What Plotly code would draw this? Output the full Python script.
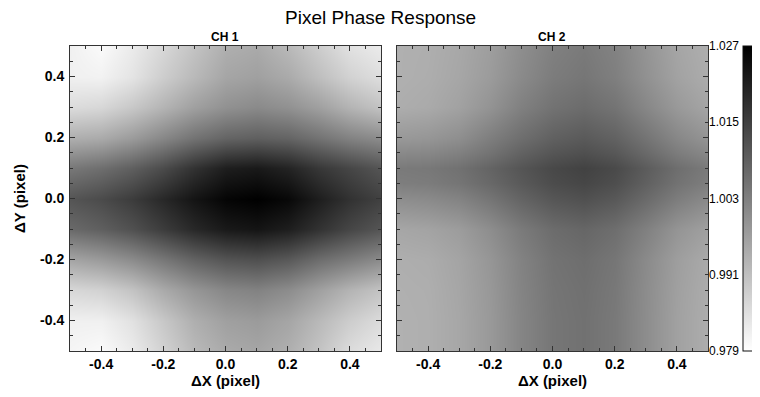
import plotly.graph_objects as go

# Grid positions (pixel phase offsets)
dx = [-0.5, -0.4, -0.3, -0.2, -0.1, 0.0, 0.1, 0.2, 0.3, 0.4, 0.5]
dy1 = [-0.5, -0.4, -0.3, -0.2, -0.1, 0.0, 0.1, 0.2, 0.3, 0.4, 0.5]
dy2 = [-0.5, -0.4, -0.3, -0.2, -0.1, 0.0, 0.05, 0.1, 0.15, 0.2, 0.3, 0.4, 0.5]

# CH 1 relative response, rows from dy=-0.5 (bottom) to dy=0.5 (top)
ch1 = [
    [0.9809, 0.9799, 0.9828, 0.9875, 0.9922, 0.9950, 0.9959, 0.9941, 0.9903, 0.9856, 0.9833],
    [0.9818, 0.9818, 0.9846, 0.9894, 0.9941, 0.9969, 0.9978, 0.9959, 0.9922, 0.9884, 0.9856],
    [0.9865, 0.9875, 0.9903, 0.9950, 0.9988, 1.0016, 1.0025, 1.0006, 0.9969, 0.9931, 0.9903],
    [0.9959, 0.9978, 1.0006, 1.0044, 1.0082, 1.0110, 1.0119, 1.0101, 1.0063, 1.0035, 1.0006],
    [1.0072, 1.0091, 1.0119, 1.0157, 1.0195, 1.0223, 1.0232, 1.0214, 1.0176, 1.0138, 1.0110],
    [1.0110, 1.0129, 1.0157, 1.0195, 1.0232, 1.0261, 1.0270, 1.0255, 1.0214, 1.0176, 1.0148],
    [1.0044, 1.0063, 1.0091, 1.0129, 1.0176, 1.0214, 1.0223, 1.0204, 1.0166, 1.0138, 1.0110],
    [0.9941, 0.9950, 0.9978, 1.0016, 1.0054, 1.0082, 1.0091, 1.0082, 1.0054, 1.0025, 1.0006],
    [0.9856, 0.9865, 0.9894, 0.9931, 0.9969, 0.9997, 1.0010, 0.9997, 0.9969, 0.9931, 0.9903],
    [0.9818, 0.9815, 0.9841, 0.9884, 0.9922, 0.9959, 0.9969, 0.9950, 0.9912, 0.9875, 0.9852],
    [0.9818, 0.9799, 0.9828, 0.9865, 0.9903, 0.9941, 0.9950, 0.9922, 0.9884, 0.9846, 0.9828],
]

# CH 2 relative response, rows follow dy2 (bottom to top)
ch2 = [
    [0.9937, 0.9941, 0.9956, 0.9982, 1.0020, 1.0048, 1.0057, 1.0042, 1.0005, 0.9967, 0.9944],
    [0.9937, 0.9941, 0.9956, 0.9982, 1.0020, 1.0048, 1.0057, 1.0042, 1.0005, 0.9967, 0.9944],
    [0.9939, 0.9942, 0.9958, 0.9984, 1.0022, 1.0050, 1.0059, 1.0044, 1.0006, 0.9969, 0.9946],
    [0.9942, 0.9946, 0.9961, 0.9988, 1.0025, 1.0054, 1.0063, 1.0048, 1.0010, 0.9973, 0.9950],
    [0.9957, 0.9963, 0.9976, 1.0004, 1.0040, 1.0067, 1.0078, 1.0063, 1.0029, 0.9991, 0.9969],
    [1.0003, 1.0010, 1.0023, 1.0050, 1.0082, 1.0108, 1.0119, 1.0104, 1.0070, 1.0035, 1.0010],
    [1.0033, 1.0037, 1.0050, 1.0074, 1.0102, 1.0127, 1.0138, 1.0123, 1.0089, 1.0055, 1.0033],
    [1.0040, 1.0044, 1.0057, 1.0082, 1.0110, 1.0134, 1.0146, 1.0131, 1.0097, 1.0063, 1.0040],
    [1.0012, 1.0016, 1.0029, 1.0054, 1.0086, 1.0110, 1.0121, 1.0106, 1.0072, 1.0037, 1.0014],
    [0.9982, 0.9988, 1.0002, 1.0033, 1.0063, 1.0089, 1.0101, 1.0086, 1.0052, 1.0016, 0.9991],
    [0.9944, 0.9950, 0.9966, 0.9993, 1.0029, 1.0055, 1.0067, 1.0052, 1.0016, 0.9982, 0.9959],
    [0.9939, 0.9944, 0.9957, 0.9978, 1.0010, 1.0037, 1.0048, 1.0031, 0.9997, 0.9965, 0.9946],
    [0.9939, 0.9942, 0.9954, 0.9973, 1.0003, 1.0029, 1.0040, 1.0025, 0.9991, 0.9959, 0.9942],
]

zmin, zmax = 0.979, 1.027
cbar_ticks = [0.979, 0.991, 1.003, 1.015, 1.027]
cbar_labels = ["0.979", "0.991", "1.003", "1.015", "1.027"]
axis_ticks = [-0.4, -0.2, 0.0, 0.2, 0.4]
axis_labels = ["-0.4", "-0.2", "0.0", "0.2", "0.4"]

gray = [[0.0, "#ffffff"], [1.0, "#000000"]]
FONT = "Liberation Sans, Arial, Helvetica, sans-serif"

OFF = 8  # page body margin
FW, FH = 752, 389
px = lambda v: (v - OFF) / FW
py = lambda v: 1 - (v - OFF) / FH

fig = go.Figure()
fig.add_trace(go.Heatmap(x=dx, y=dy1, z=ch1, zmin=zmin, zmax=zmax, colorscale=gray,
                         zsmooth="best", showscale=False, xaxis="x", yaxis="y"))
fig.add_trace(go.Heatmap(x=dx, y=dy2, z=ch2, zmin=zmin, zmax=zmax, colorscale=gray,
                         zsmooth="best", xaxis="x2", yaxis="y2",
                         colorbar=dict(x=px(743), xanchor="left", thickness=10,
                                       thicknessmode="pixels",
                                       y=py(351), yanchor="bottom", len=(351 - 46) / FH,
                                       lenmode="fraction", outlinecolor="#111",
                                       outlinewidth=1, showticklabels=False, ticks="",
                                       tickvals=cbar_ticks, xpad=0, ypad=0)))
# empty trace so the colour-scale label axis is drawn
fig.add_trace(go.Scatter(x=[None], y=[None], xaxis="x2", yaxis="y3", showlegend=False))

tickfont = dict(family=FONT, size=14, color="#000", weight="bold")
titlefont = dict(family=FONT, size=15, color="#000", weight="bold")
common = dict(range=[-0.5, 0.5], tickvals=axis_ticks, ticktext=axis_labels, ticks="inside",
              ticklen=5, tickwidth=1, tickcolor="#333", mirror="ticks", showline=True,
              linecolor="#333", linewidth=1, showgrid=False, zeroline=False,
              minor=dict(dtick=0.05, tick0=0, ticks="inside", ticklen=3, tickcolor="#333",
                         showgrid=False),
              tickfont=tickfont)

fig.update_layout(
    width=FW, height=FH,
    margin=dict(l=0, r=0, t=0, b=0, autoexpand=False),
    paper_bgcolor="white", plot_bgcolor="white",
    showlegend=False,
    font=dict(family=FONT, color="#000"),
    xaxis=dict(domain=[px(70), px(381)], anchor="y",
               title=dict(text="ΔX (pixel)", font=titlefont, standoff=2), **common),
    yaxis=dict(domain=[py(351), py(46)], anchor="x", ticklabelstandoff=2,
               title=dict(text="ΔY (pixel)", font=titlefont, standoff=10), **common),
    xaxis2=dict(domain=[px(397), px(708)], anchor="y2",
                title=dict(text="ΔX (pixel)", font=titlefont, standoff=2), **common),
    yaxis2=dict(domain=[py(351), py(46)], anchor="x2", showticklabels=False,
                **{k: v for k, v in common.items() if k != "tickfont"}),
    yaxis3=dict(domain=[py(351), py(46)], anchor="x2", overlaying="y2", side="right",
                range=[zmin, zmax], tickvals=cbar_ticks, ticktext=cbar_labels,
                ticks="", showgrid=False, zeroline=False, showline=False,
                tickfont=dict(family=FONT, size=12, color="#000")),
    annotations=[
        dict(text="Pixel Phase Response", x=px(380), y=py(17), xref="paper", yref="paper",
             xanchor="center", yanchor="middle", showarrow=False,
             font=dict(family=FONT, size=19, color="#000")),
        dict(text="CH 1", x=px(225), y=py(37), xref="paper", yref="paper",
             xanchor="center", yanchor="middle", showarrow=False,
             font=dict(family=FONT, size=12, color="#000", weight="bold")),
        dict(text="CH 2", x=px(552), y=py(37), xref="paper", yref="paper",
             xanchor="center", yanchor="middle", showarrow=False,
             font=dict(family=FONT, size=12, color="#000", weight="bold")),
    ],
)

fig.write_html("out.html")
